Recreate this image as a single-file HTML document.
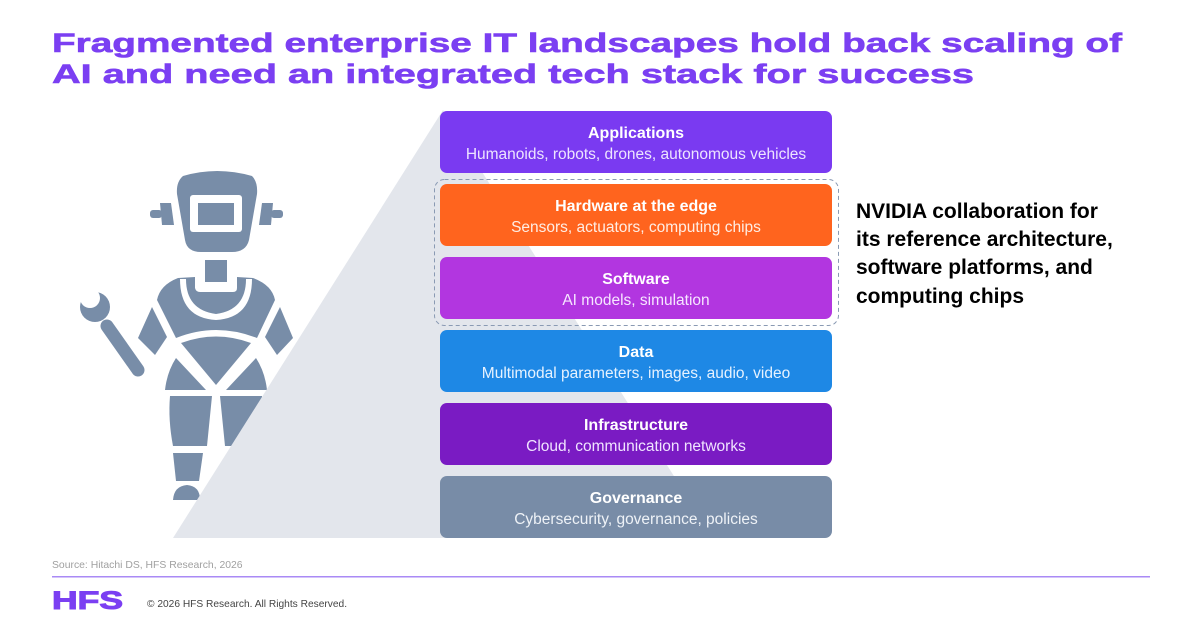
<!DOCTYPE html>
<html><head><meta charset="utf-8"><style>
html,body{margin:0;padding:0;background:#fff;}
svg{display:block;}
text{font-family:"Liberation Sans",Arial,sans-serif;}
</style></head><body>
<svg width="1200" height="627" viewBox="0 0 1200 627" xmlns="http://www.w3.org/2000/svg">
<!-- Title -->
<text x="52" y="52" font-size="27" font-weight="bold" fill="#7B3FF2" stroke="#7B3FF2" stroke-width="0.6" textLength="1070" lengthAdjust="spacingAndGlyphs">Fragmented enterprise IT landscapes hold back scaling of</text>
<text x="52" y="83" font-size="27" font-weight="bold" fill="#7B3FF2" stroke="#7B3FF2" stroke-width="0.6" textLength="922" lengthAdjust="spacingAndGlyphs">AI and need an integrated tech stack for success</text>

<!-- Robot -->
<g fill="#788DA8">
  <path d="M183,176 Q217,166 252,176 Q258,182 257,194 L249,240 Q246,252 232,252 L201,252 Q187,252 185,240 L177,194 Q176,182 183,176 Z"/>
  <rect x="190" y="195" width="52" height="37" rx="3" fill="#fff"/>
  <rect x="198" y="203" width="36" height="22"/>
  <rect x="150" y="210" width="12" height="8" rx="3"/>
  <path d="M160,203 L171,203 L174,225 L162,225 Z"/>
  <rect x="271" y="210" width="12" height="8" rx="3"/>
  <path d="M262,203 L273,203 L271,225 L259,225 Z"/>
  <rect x="205" y="260" width="22" height="22"/>
  <path d="M178,278 L195,277 L195,288 Q196,292 200,292 L233,292 Q237,292 237,288 L237,277 L253,278 Q272,285 275,300 L257,338 Q216,322 176,338 L157,300 Q160,285 178,278 Z"/>
  <path d="M186,279 Q186,310 216,314 Q246,310 246,279 L252,279 Q252,318 216,320 Q180,318 180,279 Z" fill="#fff"/>
  <path d="M152,307 L167,337 L155,355 L138,338 Z"/>
  <path d="M280,307 L265,337 L277,355 L293,338 Z"/>
  <line x1="107" y1="326" x2="138" y2="370" stroke="#788DA8" stroke-width="13" stroke-linecap="round"/>
  <circle cx="95" cy="307" r="15"/>
  <circle cx="90" cy="298" r="10" fill="#fff"/>
  <path d="M181,343 Q216,330 251,343 L216,385 Z"/>
  <path d="M176,358 L206,390 L165,390 Q167,372 176,358 Z"/>
  <path d="M256,358 L226,390 L267,390 Q265,372 256,358 Z"/>
  <path d="M170,396 L212,396 L207,446 L173,446 Q168,420 170,396 Z"/>
  <path d="M220,396 L262,396 L260,446 L225,446 Z"/>
  <path d="M173,453 L203,453 L199,481 L176,481 Z"/>
  <path d="M173,500 Q174,486 187,485 Q200,486 200,500 Z"/>
</g>

<!-- Triangle -->
<polygon points="443,110 173,538 713,538" fill="#E3E6EC"/>

<!-- Dashed group -->
<rect x="434.5" y="179.5" width="404" height="146" rx="10" fill="none" stroke="#8A9AB3" stroke-width="1" stroke-dasharray="4,3"/>

<!-- Boxes -->
<g text-anchor="middle" fill="#fff">
  <rect x="440" y="111" width="392" height="62" rx="7" fill="#7A3AF1"/>
  <text x="636" y="138" font-size="16" font-weight="bold" fill="#fff">Applications</text>
  <text x="636" y="159" font-size="15.5" fill="#EDE4FF">Humanoids, robots, drones, autonomous vehicles</text>

  <rect x="440" y="184" width="392" height="62" rx="7" fill="#FF641E"/>
  <text x="636" y="211" font-size="16" font-weight="bold" fill="#fff">Hardware at the edge</text>
  <text x="636" y="232" font-size="15.5" fill="#FFEDE4">Sensors, actuators, computing chips</text>

  <rect x="440" y="257" width="392" height="62" rx="7" fill="#B236E0"/>
  <text x="636" y="284" font-size="16" font-weight="bold" fill="#fff">Software</text>
  <text x="636" y="305" font-size="15.5" fill="#F6E6FF">AI models, simulation</text>

  <rect x="440" y="330" width="392" height="62" rx="7" fill="#1E88E5"/>
  <text x="636" y="357" font-size="16" font-weight="bold" fill="#fff">Data</text>
  <text x="636" y="378" font-size="15.5" fill="#E6F2FF">Multimodal parameters, images, audio, video</text>

  <rect x="440" y="403" width="392" height="62" rx="7" fill="#7A1BC3"/>
  <text x="636" y="430" font-size="16" font-weight="bold" fill="#fff">Infrastructure</text>
  <text x="636" y="451" font-size="15.5" fill="#F0E4FF">Cloud, communication networks</text>

  <rect x="440" y="476" width="392" height="62" rx="7" fill="#788CA7"/>
  <text x="636" y="503" font-size="16" font-weight="bold" fill="#fff">Governance</text>
  <text x="636" y="524" font-size="15.5" fill="#EEF2F7">Cybersecurity, governance, policies</text>
</g>

<!-- Right text -->
<g font-size="21" font-weight="bold" fill="#000">
  <text x="856" y="218">NVIDIA collaboration for</text>
  <text x="856" y="246">its reference architecture,</text>
  <text x="856" y="274">software platforms, and</text>
  <text x="856" y="303">computing chips</text>
</g>

<!-- Footer -->
<text x="52" y="568" font-size="10.4" fill="#A0A0A0">Source: Hitachi DS, HFS Research, 2026</text>
<rect x="52" y="576" width="1098" height="1.5" fill="#A98AF5"/>
<text x="52" y="609" font-size="25" font-weight="900" fill="#7B3FF2" stroke="#7B3FF2" stroke-width="1" textLength="71" lengthAdjust="spacingAndGlyphs">HFS</text>
<text x="147" y="607" font-size="10.2" fill="#444">© 2026 HFS Research. All Rights Reserved.</text>
</svg>
</body></html>
